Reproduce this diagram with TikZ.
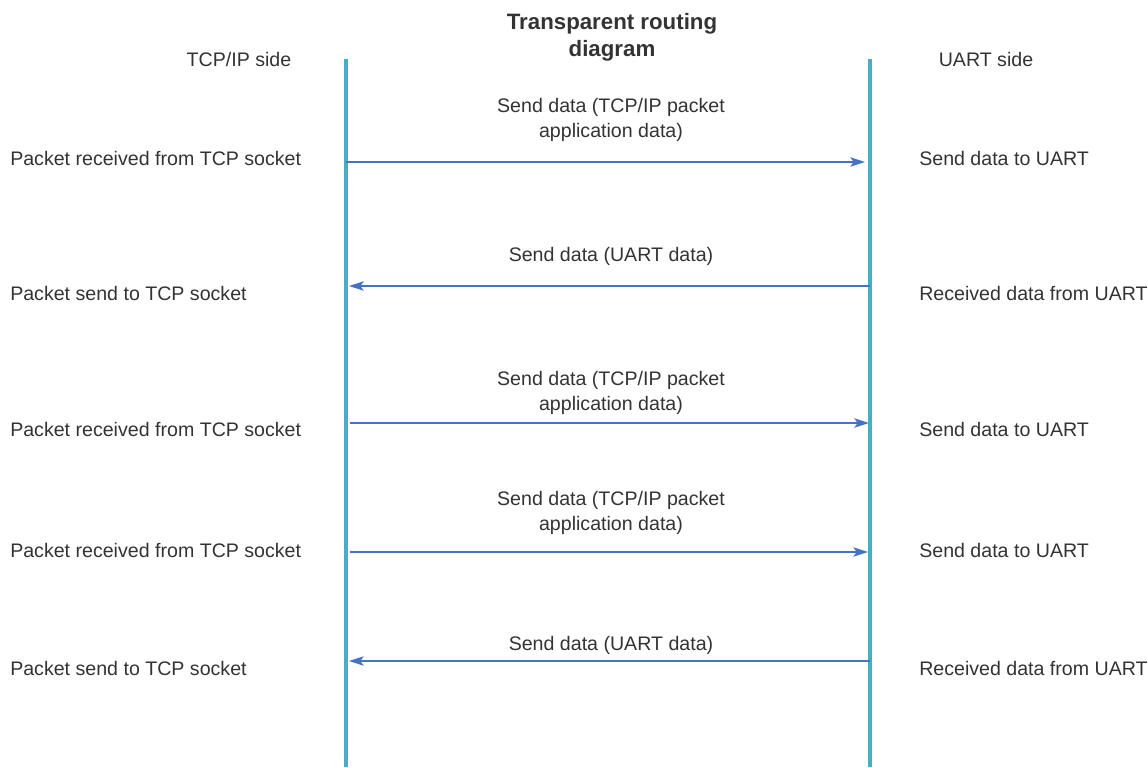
\documentclass[tikz,border=0pt]{standalone}
\usepackage{fontspec}
\setmainfont{Liberation Sans}
\usetikzlibrary{arrows.meta}
\definecolor{lifeblue}{RGB}{75,172,198}
\definecolor{msgblue}{RGB}{68,114,196}
\definecolor{txtgray}{RGB}{51,51,51}
\begin{document}
\begin{tikzpicture}[x=0.75pt,y=-0.75pt,
  lbl/.style={inner sep=0pt,text=txtgray,font=\fontsize{14.7}{18.75}\selectfont},
  sidelbl/.style={lbl,anchor=base west},
  msglbl/.style={lbl,anchor=base,align=center},
  titlelbl/.style={inner sep=0pt,text=txtgray,anchor=base,align=center,font=\fontsize{16.7}{20.25}\selectfont\bfseries},
  lifeline/.style={draw=lifeblue,line width=2.5pt},
  msg/.style={draw=msgblue,line width=1.1pt,-{Stealth[length=11pt,width=7pt,inset=2.5pt]}}]
\useasboundingbox (0,0) rectangle (1148,767);
% lifelines
\coordinate (Ltop) at (346,59);
\coordinate (Lbot) at (346,767);
\coordinate (Rtop) at (870,59);
\coordinate (Rbot) at (870,767);
\draw[lifeline] (Ltop) -- (Lbot);
\draw[lifeline] (Rtop) -- (Rbot);
% title and headers (base anchor = last line)
\node[titlelbl] (title) at (612,56) {Transparent routing\\diagram};
\node[lbl,anchor=base] (tcpside) at (239,66) {TCP/IP side};
\node[lbl,anchor=base] (uartside) at (986,66) {UART side};
% arrow endpoints
\coordinate (L1) at (346,162); \coordinate (R1) at (865,162);
\coordinate (R2) at (870,286); \coordinate (L2) at (349,286);
\coordinate (L3) at (350,423); \coordinate (R3) at (869,423);
\coordinate (L4) at (350,552); \coordinate (R4) at (868,552);
\coordinate (R5) at (870,661); \coordinate (L5) at (349,661);
\draw[msg] (L1) -- (R1);
\draw[msg] (R2) -- (L2);
\draw[msg] (L3) -- (R3);
\draw[msg] (L4) -- (R4);
\draw[msg] (R5) -- (L5);
% message labels
\node[msglbl] (m1) at (611,137) {Send data (TCP/IP packet\\application data)};
\node[msglbl] (m2) at (611,261) {Send data (UART data)};
\node[msglbl] (m3) at (611,410) {Send data (TCP/IP packet\\application data)};
\node[msglbl] (m4) at (611,530) {Send data (TCP/IP packet\\application data)};
\node[msglbl] (m5) at (611,650) {Send data (UART data)};
% left labels
\node[sidelbl] (a1) at (10,165) {Packet received from TCP socket};
\node[sidelbl] (a2) at (10,300) {Packet send to TCP socket};
\node[sidelbl] (a3) at (10,436) {Packet received from TCP socket};
\node[sidelbl] (a4) at (10,557) {Packet received from TCP socket};
\node[sidelbl] (a5) at (10,675) {Packet send to TCP socket};
% right labels
\node[sidelbl] (b1) at (919,165) {Send data to UART};
\node[sidelbl] (b2) at (919,300) {Received data from UART};
\node[sidelbl] (b3) at (919,436) {Send data to UART};
\node[sidelbl] (b4) at (919,557) {Send data to UART};
\node[sidelbl] (b5) at (919,675) {Received data from UART};
\end{tikzpicture}
\end{document}
